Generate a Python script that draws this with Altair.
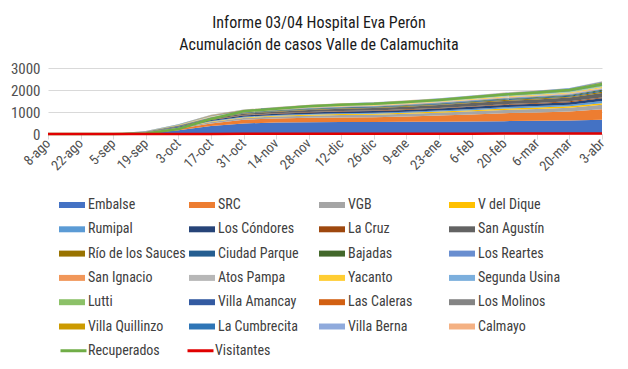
import altair as alt
import pandas as pd

fechas = ["8-ago", "22-ago", "5-sep", "19-sep", "3-oct", "17-oct", "31-oct", "14-nov",
          "28-nov", "12-dic", "26-dic", "9-ene", "23-ene", "6-feb", "20-feb", "6-mar",
          "20-mar", "3-abr"]
dias = [0, 14, 28, 42, 56, 70, 84, 98, 112, 126, 140, 154, 168, 182, 196, 210, 224, 238]

localidades = ["Embalse", "SRC", "VGB", "V del Dique", "Rumipal", "Los Cóndores", "La Cruz",
               "San Agustín", "Río de los Sauces", "Ciudad Parque", "Bajadas", "Los Reartes",
               "San Ignacio", "Atos Pampa", "Yacanto", "Segunda Usina", "Lutti",
               "Villa Amancay", "Las Caleras", "Los Molinos", "Villa Quillinzo",
               "La Cumbrecita", "Villa Berna", "Calmayo"]

colores = ["#4472C4", "#ED7D31", "#A5A5A5", "#FFC000", "#5B9BD5", "#264478", "#9E480E",
           "#636363", "#997300", "#255E91", "#43682B", "#698ED0", "#F1975A", "#B7B7B7",
           "#FFCD33", "#7CAFDD", "#8CC168", "#335AA1", "#D26012", "#848484", "#CC9A00",
           "#2E75B6", "#8FAADC", "#F4B183"]

embalse = [0, 0, 2, 30, 170, 360, 480, 520, 535, 545, 550, 555, 560, 570, 585, 600, 615, 650]
src = [0, 0, 2, 25, 70, 120, 170, 185, 200, 205, 210, 240, 280, 320, 360, 380, 410, 480]
vgb = [0, 0, 1, 10, 30, 60, 75, 88, 100, 110, 120, 125, 130, 140, 150, 160, 170, 195]
v_del_dique = [0, 0, 0, 5, 15, 25, 30, 35, 40, 45, 45, 48, 50, 55, 60, 62, 65, 78]
rumipal = [0, 0, 0, 5, 15, 25, 30, 32, 35, 38, 40, 42, 45, 55, 65, 70, 75, 92]
los_condores = [0, 0, 0, 10, 25, 50, 58, 64, 70, 75, 78, 85, 90, 95, 100, 105, 110, 125]
la_cruz = [0, 0, 0, 3, 8, 15, 18, 20, 22, 25, 26, 28, 30, 32, 34, 36, 38, 44]
san_agustin = [0, 0, 1, 10, 25, 50, 62, 72, 90, 105, 110, 120, 130, 140, 150, 160, 175, 205]
rio_sauces = [0, 0, 0, 3, 8, 15, 18, 20, 22, 24, 25, 27, 30, 33, 36, 38, 40, 46]
ciudad_parque = [0, 0, 0, 4, 10, 20, 22, 24, 26, 28, 29, 31, 33, 36, 40, 42, 45, 54]
bajadas = [0, 0, 0, 3, 6, 12, 14, 15, 17, 18, 19, 20, 22, 25, 28, 30, 32, 37]
los_reartes = [0, 0, 0, 4, 8, 15, 17, 18, 20, 22, 23, 25, 28, 30, 32, 34, 36, 42]
san_ignacio = [0, 0, 0, 2, 4, 8, 9, 10, 11, 12, 12, 13, 14, 15, 16, 17, 18, 21]
atos_pampa = [0, 0, 0, 2, 4, 8, 9, 10, 11, 12, 12, 13, 14, 15, 16, 17, 18, 21]
yacanto = [0, 0, 0, 3, 6, 12, 13, 14, 16, 18, 19, 21, 23, 26, 30, 32, 35, 45]
segunda_usina = [0, 0, 0, 2, 5, 9, 10, 11, 12, 13, 14, 15, 16, 18, 20, 22, 24, 29]
lutti = [0, 0, 0, 2, 6, 12, 14, 16, 18, 20, 21, 23, 25, 28, 30, 32, 34, 40]
villa_amancay = [0, 0, 0, 3, 6, 12, 14, 15, 17, 18, 19, 21, 23, 26, 29, 31, 34, 42]
las_caleras = [0, 0, 0, 2, 5, 10, 11, 12, 13, 14, 15, 16, 18, 20, 22, 24, 26, 31]
los_molinos = [0, 0, 0, 3, 7, 14, 16, 18, 20, 22, 23, 25, 27, 30, 33, 36, 40, 50]
villa_quillinzo = [0, 0, 0, 2, 4, 8, 9, 10, 11, 12, 13, 14, 15, 16, 18, 19, 21, 30]
la_cumbrecita = [0, 0, 0, 1, 3, 6, 7, 7, 8, 9, 9, 10, 11, 12, 13, 14, 15, 19]
villa_berna = [0, 0, 0, 1, 2, 4, 5, 5, 6, 6, 7, 7, 8, 9, 10, 10, 11, 14]
calmayo = [0, 0, 0, 1, 2, 3, 4, 4, 5, 5, 5, 6, 6, 7, 8, 8, 9, 11]

valores = [embalse, src, vgb, v_del_dique, rumipal, los_condores, la_cruz, san_agustin,
           rio_sauces, ciudad_parque, bajadas, los_reartes, san_ignacio, atos_pampa, yacanto,
           segunda_usina, lutti, villa_amancay, las_caleras, los_molinos, villa_quillinzo,
           la_cumbrecita, villa_berna, calmayo]

lineas = ["Recuperados", "Visitantes"]
colores_lineas = ["#70AD47", "#E00000"]
recuperados = [0, 0, 0, 25, 230, 680, 1030, 1150, 1260, 1330, 1370, 1450, 1550, 1670, 1800, 1890, 2000, 2260]
visitantes = [0, 0, 0, 0, 2, 5, 8, 10, 10, 12, 12, 14, 15, 16, 18, 20, 20, 22]
valores_lineas = [recuperados, visitantes]

y_ticks = [0, 1000, 2000, 3000]

filas = []
for i, (nombre, serie) in enumerate(zip(localidades, valores)):
    for d, f, v in zip(dias, fechas, serie):
        filas.append({"dia": d, "fecha": f, "serie": nombre, "valor": v, "idx": i})
df_areas = pd.DataFrame(filas)

filas_l = []
for nombre, serie in zip(lineas, valores_lineas):
    for d, f, v in zip(dias, fechas, serie):
        filas_l.append({"dia": d, "fecha": f, "serie": nombre, "valor": v})
df_lineas = pd.DataFrame(filas_l)

FONT = "Roboto Condensed"
label_expr = "[" + ",".join("'" + f + "'" for f in fechas) + "][round(datum.value / 14)]"

x_enc = alt.X("dia:Q",
              scale=alt.Scale(domain=[dias[0], dias[-1]], nice=False, zero=False),
              axis=alt.Axis(values=dias, tickCount=len(dias) + 2, labelExpr=label_expr,
                            labelAngle=-45, labelAlign="right", labelBaseline="middle",
                            labelFontSize=14, labelColor="#505050", labelPadding=2,
                            labelOverlap=False, labelFont=FONT,
                            ticks=True, tickSize=5, tickColor="#D9D9D9",
                            domainColor="#D9D9D9", grid=False, title=None))
y_enc = alt.Y("valor:Q", stack="zero",
              scale=alt.Scale(domain=[0, 3000], nice=False),
              axis=alt.Axis(values=y_ticks, tickCount=len(y_ticks) + 2, format="d", grid=True,
                            gridColor="#D9D9D9", labelOverlap=False, labelFont=FONT,
                            ticks=False, domain=False, labelFontSize=15,
                            labelColor="#505050", labelPadding=8, title=None))

areas = alt.Chart(df_areas).mark_area(opacity=1).encode(
    x=x_enc,
    y=y_enc,
    color=alt.Color("serie:N", sort=localidades,
                    scale=alt.Scale(domain=localidades, range=colores),
                    legend=alt.Legend(title=None, orient="none", legendX=11, legendY=124,
                                      direction="horizontal", columns=4, gridAlign="all",
                                      columnPadding=3, rowPadding=4.3,
                                      symbolType="M-1,-0.23H1V0.23H-1Z",
                                      symbolSize=676, symbolStrokeWidth=0,
                                      labelFontSize=14, labelColor="#404040", labelFont=FONT,
                                      labelOffset=3, labelLimit=200, padding=0)),
    order=alt.Order("idx:Q", sort="ascending"),
)

lines = alt.Chart(df_lineas).mark_line(strokeWidth=2.5).encode(
    x=alt.X("dia:Q"),
    y=alt.Y("valor:Q"),
    stroke=alt.Stroke("serie:N", sort=lineas,
                      scale=alt.Scale(domain=lineas, range=colores_lineas),
                      legend=alt.Legend(title=None, orient="none", legendX=11, legendY=268,
                                        direction="horizontal", columns=4, columnPadding=21,
                                        symbolType="stroke", symbolSize=676,
                                        symbolStrokeWidth=3,
                                        labelFontSize=14, labelColor="#404040", labelFont=FONT,
                                        labelOffset=0, labelLimit=200, padding=0)),
)

chart = alt.layer(areas, lines).properties(
    width=554, height=66,
    autosize=alt.AutoSizeParams(type="none"),
    padding={"left": 40, "top": 60, "right": 18, "bottom": 227},
    title=alt.Title(["Informe 03/04 Hospital Eva Perón", "Acumulación de casos Valle de Calamuchita"],
                    fontSize=16, fontWeight="normal", color="#1a1a1a", lineHeight=22,
                    anchor="middle", offset=8, dx=-6, font=FONT),
).configure(font=FONT).configure_view(stroke=None)

chart.save("out.html", embed_options={"renderer": "svg", "actions": False})
